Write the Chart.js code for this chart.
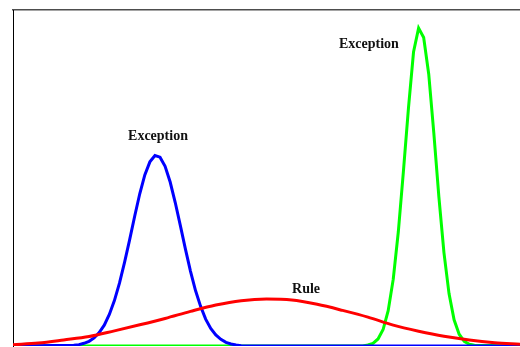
<!DOCTYPE html>
<html>
<head>
<meta charset="utf-8">
<script src="https://cdn.jsdelivr.net/npm/chart.js@4/dist/chart.umd.min.js"></script>
<style>
  html, body { margin: 0; padding: 0; background: #fff; }
  canvas { display: block; }
</style>
</head>
<body>
<canvas id="c" width="520" height="347"></canvas>
<script>
// --- data (x in arbitrary units 0..100, y in arbitrary units 0..100) ---
const blueX = [0, 12, 13, 14, 15, 16, 17, 18, 19, 20, 21, 22, 23, 24, 25, 26, 27, 28, 29, 30,
               31, 32, 33, 34, 35, 36, 37, 38, 39, 40, 41, 42, 43, 44, 45, 100];
const blueY = [0, 0.2, 0.4, 0.8, 1.4, 2.4, 4.0, 6.2, 9.4, 13.5, 18.7, 24.9, 31.6, 38.6, 45.3, 50.9, 54.8, 56.7, 56.2, 53.5,
               48.8, 42.7, 35.9, 28.9, 22.3, 16.5, 11.8, 8.0, 5.2, 3.3, 2.0, 1.1, 0.6, 0.3, 0.1, 0];

const greenX = [0, 69, 70, 71, 72, 73, 74, 75, 76, 77, 78, 79, 80, 81, 82, 83, 84, 85, 86, 87, 88, 89, 90, 91, 100];
const greenY = [0, 0, 0.3, 0.8, 2.1, 4.9, 10.5, 19.9, 34.0, 51.9, 70.8, 87.5, 94.6, 91.8, 80.9, 63.4, 44.4, 27.8, 15.6, 7.8, 3.5, 1.4, 0.5, 0.2, 0];

const redX = [0, 5, 10, 15, 20, 25, 30, 35, 40, 45, 50, 55, 60, 65, 70, 75, 80, 85, 90, 95, 100];
const redY = [0.4, 0.9, 1.8, 2.8, 4.5, 6.3, 8.2, 10.3, 12.2, 13.5, 14.0, 13.7, 12.4, 10.6, 8.6, 6.2, 4.4, 2.9, 1.8, 1.0, 0.5];

const labelTexts = ['Exception', 'Exception', 'Rule'];
const labelX = [28.6, 70.2, 57.8];
const labelY = [61.3, 88.7, 15.8];

function pts(xs, ys) { return xs.map((x, i) => ({ x: x, y: ys[i] })); }

const labelPlugin = {
  id: 'curveLabels',
  afterDatasetsDraw(chart) {
    const ctx = chart.ctx;
    const xs = chart.scales.x, ys = chart.scales.y;
    ctx.save();
    ctx.font = 'bold 14px "Liberation Serif", "Times New Roman", serif';
    ctx.fillStyle = '#111';
    ctx.textAlign = 'center';
    ctx.textBaseline = 'alphabetic';
    labelTexts.forEach((t, i) => {
      ctx.fillText(t, xs.getPixelForValue(labelX[i]), ys.getPixelForValue(labelY[i]));
    });
    ctx.restore();
  }
};

new Chart(document.getElementById('c'), {
  type: 'line',
  data: {
    datasets: [
      { label: 'Rule', data: pts(redX, redY), borderColor: '#ff0000', borderWidth: 3,
        pointRadius: 0, cubicInterpolationMode: 'monotone', fill: false },
      { label: 'Exception A', data: pts(blueX, blueY), borderColor: '#0000ff', borderWidth: 3,
        pointRadius: 0, tension: 0, fill: false },
      { label: 'Exception B', data: pts(greenX, greenY), borderColor: '#00ff00', borderWidth: 3,
        pointRadius: 0, tension: 0, fill: false }
    ]
  },
  options: {
    responsive: false,
    animation: false,
    layout: { padding: { left: 13, top: 10, right: 0, bottom: 1 } },
    plugins: { legend: { display: false }, tooltip: { enabled: false } },
    scales: {
      x: { type: 'linear', min: 0, max: 100, display: false },
      xTop: { type: 'linear', position: 'top', min: 0, max: 100, display: true,
        grid: { display: false, drawTicks: false }, ticks: { display: false },
        border: { display: true, color: '#4d4d4d', width: 1.5 } },
      y: { type: 'linear', min: 0, max: 100, display: true,
        grid: { display: false, drawTicks: false }, ticks: { display: false },
        border: { display: true, color: '#000', width: 1 } }
    }
  },
  plugins: [labelPlugin]
});
</script>
</body>
</html>
